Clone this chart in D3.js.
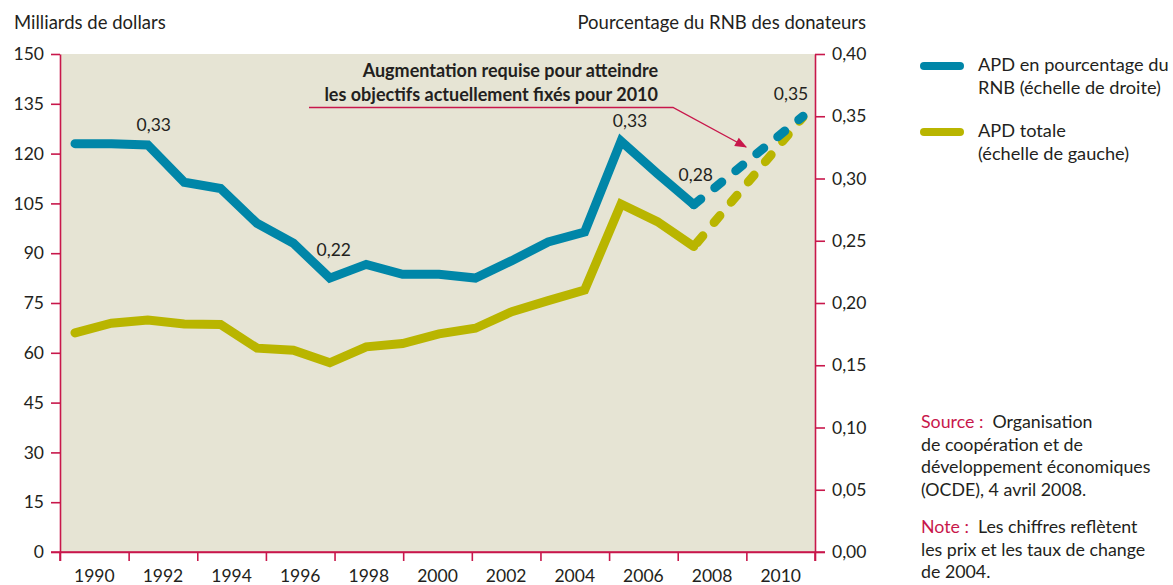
<!DOCTYPE html>
<html><head><meta charset="utf-8">
<script src="https://cdn.jsdelivr.net/npm/d3@7"></script>
<style>
body{margin:0;background:#fff;}
text{font-family:Lato,"Open Sans",sans-serif;fill:#231f20;}
</style></head><body>
<svg id="c" width="1173" height="585"></svg>
<script>
const years = [1990,1991,1992,1993,1994,1995,1996,1997,1998,1999,2000,2001,2002,2003,2004,2005,2006,2007];
const apdPct = [0.328,0.328,0.327,0.297,0.292,0.264,0.248,0.220,0.231,0.223,0.223,0.220,0.234,0.249,0.257,0.330,0.304,0.279];
const apdTotal = [66.0,68.9,69.9,68.7,68.5,61.4,60.8,57.0,61.8,62.8,65.7,67.4,72.4,75.7,78.9,104.8,99.5,92.0];
const projYears = [2007,2010];
const projPct = [0.279,0.35];
const projTotal = [92.0,131];
const leftTicks = [0,15,30,45,60,75,90,105,120,135,150];
const rightTicks = [0,0.05,0.10,0.15,0.20,0.25,0.30,0.35,0.40];
const xTickYears = [1989,1991,1993,1995,1997,1999,2001,2003,2005,2007,2009,2011];
const xLabels = [1990,1992,1994,1996,1998,2000,2002,2004,2006,2008,2010];
const pctLabels = [{year:1992,v:0.33},{year:1997,v:0.22},{year:2005,v:0.33},{year:2007,v:0.28},{year:2010,v:0.35}];

const BLUE = "#0086a8", YEL = "#b9b500", RED = "#c8174b", BG = "#e6e4d4";
const svg = d3.select("#c");
const L = 60, R = 815, T = 54, B = 552;

const xAx = d3.scaleLinear().domain([1989,2011]).range([L,R]);
const xD = d3.scaleLinear().domain([1990,2010]).range([75,803]);
const yL = d3.scaleLinear().domain([0,150]).range([B,T]);
const yR = d3.scaleLinear().domain([0,0.40]).range([B,T]);
const fr = d3.format(".2f");
const frFmt = v => fr(v).replace(".", ",");

svg.append("rect").attr("x",L).attr("y",T).attr("width",R-L).attr("height",B-T).attr("fill",BG);

const gl = svg.append("g").attr("transform",`translate(${L},0)`)
  .call(d3.axisLeft(yL).tickValues(leftTicks).tickSize(9).tickSizeOuter(0).tickPadding(7));
const gr = svg.append("g").attr("transform",`translate(${R},0)`)
  .call(d3.axisRight(yR).tickValues(rightTicks).tickSize(10).tickSizeOuter(0).tickPadding(7).tickFormat(frFmt));
const gb = svg.append("g").attr("transform",`translate(0,${B})`)
  .call(d3.axisBottom(xAx).tickValues(xTickYears).tickSize(9).tickSizeOuter(0).tickFormat(""));
[gl,gr,gb].forEach(g=>{
  g.selectAll("path.domain").attr("stroke",RED).attr("stroke-width",1.6);
  g.selectAll(".tick line").attr("stroke",RED).attr("stroke-width",1.6);
  g.selectAll(".tick text").attr("font-size",17.5).attr("fill","#231f20").attr("font-family","Lato,'Open Sans',sans-serif");
});
svg.append("line").attr("x1",L).attr("x2",L).attr("y1",B).attr("y2",B+9).attr("stroke",RED).attr("stroke-width",1.6);
svg.append("line").attr("x1",R).attr("x2",R).attr("y1",B).attr("y2",B+9).attr("stroke",RED).attr("stroke-width",1.6);
svg.append("line").attr("x1",L-9).attr("x2",R+10).attr("y1",B).attr("y2",B).attr("stroke",RED).attr("stroke-width",1.6);

svg.selectAll("text.xl").data(xLabels).join("text").attr("class","xl")
  .attr("x",d=>xAx(d)).attr("y",582).attr("text-anchor","middle").attr("font-size",17.5).text(d=>d);

svg.append("text").attr("x",14).attr("y",29).attr("font-size",18.5).text("Milliards de dollars");
svg.append("text").attr("x",866).attr("y",29).attr("text-anchor","end").attr("font-size",18.5).text("Pourcentage du RNB des donateurs");

const lineL = d3.line().x(d=>xD(d[0])).y(d=>yL(d[1]));
const lineR = d3.line().x(d=>xD(d[0])).y(d=>yR(d[1]));
const common = g => g.attr("fill","none").attr("stroke-width",9).attr("stroke-linejoin","miter").attr("stroke-linecap","round");

svg.append("path").datum(years.map((y,i)=>[y,apdTotal[i]])).attr("d",lineL).attr("stroke",YEL).call(common);
svg.append("path").datum(projYears.map((y,i)=>[y,projTotal[i]])).attr("d",lineL).attr("stroke",YEL).call(common)
  .attr("stroke-dasharray","9,17.5").attr("stroke-dashoffset",-5);
svg.append("path").datum(years.map((y,i)=>[y,apdPct[i]])).attr("d",lineR).attr("stroke",BLUE).call(common);
svg.append("path").datum(projYears.map((y,i)=>[y,projPct[i]])).attr("d",lineR).attr("stroke",BLUE).call(common)
  .attr("stroke-dasharray","9,18");

const offs = {1992:[6,-14],1997:[4,-22],2005:[9,-14],2007:[2,-24],2010:[-12,-16]};
svg.selectAll("text.pl").data(pctLabels).join("text").attr("class","pl")
  .attr("x",d=>xD(d.year)+offs[d.year][0])
  .attr("y",d=>{const i=years.indexOf(d.year); const v = i>=0?apdPct[i]:projPct[1]; return yR(v)+offs[d.year][1];})
  .attr("text-anchor","middle").attr("font-size",17.5).text(d=>frFmt(d.v));

svg.append("text").attr("x",658).attr("y",77).attr("text-anchor","end").attr("font-size",18).attr("font-weight","bold")
  .text("Augmentation requise pour atteindre");
svg.append("text").attr("x",658).attr("y",101).attr("text-anchor","end").attr("font-size",18).attr("font-weight","bold")
  .text("les objectifs actuellement fixés pour 2010");
svg.append("defs").append("marker").attr("id","ah").attr("viewBox","0 0 10 10").attr("refX",9).attr("refY",5)
  .attr("markerWidth",16).attr("markerHeight",12).attr("orient","auto").attr("markerUnits","userSpaceOnUse")
  .append("path").attr("d","M0,1 L10,5 L0,9 Z").attr("fill",RED);
svg.append("path").attr("d","M309,107.5 L673,107.5 L746,147").attr("fill","none").attr("stroke",RED).attr("stroke-width",1.4)
  .attr("marker-end","url(#ah)");

const leg = [{c:BLUE,y:66,l:["APD en pourcentage du","RNB (échelle de droite)"]},{c:YEL,y:132,l:["APD totale","(échelle de gauche)"]}];
leg.forEach(d=>{
  svg.append("line").attr("x1",924).attr("x2",960).attr("y1",d.y).attr("y2",d.y).attr("stroke",d.c).attr("stroke-width",8).attr("stroke-linecap","round");
  d.l.forEach((t,i)=>svg.append("text").attr("x",978).attr("y",d.y+5+i*23).attr("font-size",18.2).text(t));
});

const srcLines = [["Source :","Organisation"],[null,"de coopération et de"],[null,"développement économiques"],[null,"(OCDE), 4 avril 2008."]];
const noteLines = [["Note :","Les chiffres reflètent"],[null,"les prix et les taux de change"],[null,"de 2004."]];
function block(lines,y0){
  lines.forEach((ln,i)=>{
    const t = svg.append("text").attr("x",921).attr("y",y0+i*22.6).attr("font-size",17.8);
    if(ln[0]){ t.append("tspan").style("fill",RED).text(ln[0]); t.append("tspan").attr("dx",9).text(ln[1]); }
    else t.text(ln[1]);
  });
}
block(srcLines,428);
block(noteLines,533);
</script></body></html>
